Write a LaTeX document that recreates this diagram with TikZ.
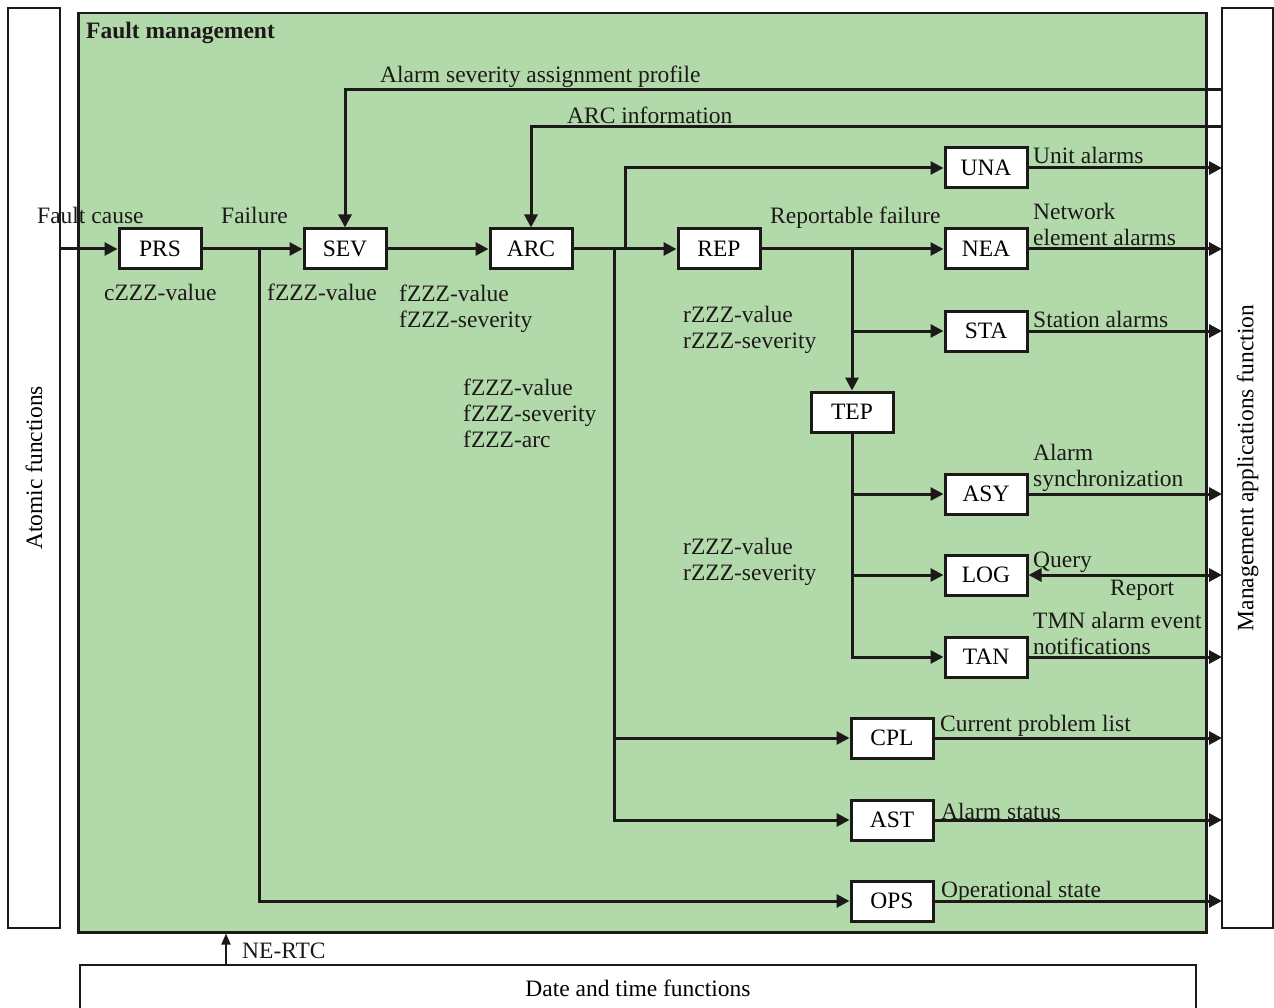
\documentclass[tikz,border=0pt]{standalone}
\usepackage{fontspec}
\setmainfont{Liberation Serif}
\usetikzlibrary{arrows.meta}
\definecolor{fmgreen}{RGB}{178,217,170}
\definecolor{ink}{RGB}{30,25,25}
\begin{document}
\begin{tikzpicture}[x=1pt,y=-1pt,
  fnt/.style={font=\fontsize{23.5}{26}\selectfont},
  blk/.style={draw=ink,line width=3pt,fill=white,minimum width=82pt,minimum height=40pt,inner sep=0pt,fnt},
  lbl/.style={fnt,inner sep=0pt,anchor=base west,align=left,text=ink},
  conn/.style={draw=ink,line width=3pt},
  arr/.style={conn,-{Triangle[length=13pt,width=13pt]}},
  darr/.style={conn,{Triangle[length=13pt,width=13pt]}-{Triangle[length=13pt,width=13pt]}},
  thinarr/.style={draw=ink,line width=1.8pt,-{Triangle[length=11pt,width=9pt]}},
  panel/.style={draw=ink,line width=2.2pt,fill=white,inner sep=0pt,fnt}]
\useasboundingbox (0,0) rectangle (1274,1008);

% panels
\node[panel,rotate=90,minimum width=920pt,minimum height=52pt] (atomic) at (34,468) {Atomic functions};
\node[panel,rotate=90,minimum width=920pt,minimum height=51pt] (mgmt) at (1247.5,468) {Management applications function};
\node[draw=ink,line width=2.5pt,fill=fmgreen,minimum width=1128pt,minimum height=919pt,anchor=north west,inner sep=0pt] (fm) at (77,12) {};
\node[panel,minimum width=1116pt,minimum height=46pt] (dt) at (638,988) {Date and time functions};
\node[lbl,font=\fontsize{23.5}{26}\selectfont\bfseries] (fmt) at (86,39) {Fault management};

% blocks
\node[blk] (prs) at (160,249) {PRS};
\node[blk] (sev) at (345,249) {SEV};
\node[blk] (arc) at (531,249) {ARC};
\node[blk] (rep) at (719,249) {REP};
\node[blk] (una) at (986,168) {UNA};
\node[blk] (nea) at (986,249) {NEA};
\node[blk] (sta) at (986,331) {STA};
\node[blk] (tep) at (852,412) {TEP};
\node[blk] (asy) at (986,494) {ASY};
\node[blk] (log) at (986,575) {LOG};
\node[blk] (tan) at (986,657) {TAN};
\node[blk] (cpl) at (892,738) {CPL};
\node[blk] (ast) at (892,820) {AST};
\node[blk] (ops) at (892,901) {OPS};

% coordinates
\coordinate (fc) at (60,249);
\coordinate (rx) at (1222,0);
\coordinate (j1) at (259,249);
\coordinate (j2) at (614,249);
\coordinate (j3) at (625,249);
\coordinate (j4) at (852,249);
\coordinate (asp) at (1222,90);
\coordinate (arci) at (1222,127);
\coordinate (rtcx) at (226,0);

% connectors
\draw[arr] (fc) -- (prs);
\draw[arr] (prs) -- (sev);
\draw[arr] (j1) |- (ops);
\draw[arr] (sev) -- (arc);
\draw[arr] (arc) -- (rep);
\draw[arr] (j2) |- (ast);
\draw[arr] (j2 |- cpl) -- (cpl);
\draw[arr] (j3) |- (una);
\draw[arr] (rep) -- (nea);
\draw[arr] (j4) -- (tep);
\draw[arr] (j4 |- sta) -- (sta);
\draw[arr] (tep) |- (tan);
\draw[arr] (tep.south |- asy) -- (asy);
\draw[arr] (tep.south |- log) -- (log);
\draw[arr] (asp) -| (sev);
\draw[arr] (arci) -| (arc);
\draw[arr] (una) -- (una -| rx);
\draw[arr] (nea) -- (nea -| rx);
\draw[arr] (sta) -- (sta -| rx);
\draw[arr] (asy) -- (asy -| rx);
\draw[darr] (log) -- (log -| rx);
\draw[arr] (tan) -- (tan -| rx);
\draw[arr] (cpl) -- (cpl -| rx);
\draw[arr] (ast) -- (ast -| rx);
\draw[arr] (ops) -- (ops -| rx);
\draw[thinarr] (dt.north -| rtcx) -- (fm.south -| rtcx);

% labels
\node[lbl] (l1) at (37,224) {Fault cause};
\node[lbl] (l2) at (221,224) {Failure};
\node[lbl] (l3) at (380,83) {Alarm severity assignment profile};
\node[lbl] (l4) at (567,124) {ARC information};
\node[lbl] (l5) at (104,301) {cZZZ-value};
\node[lbl] (l6) at (267,301) {fZZZ-value};
\node[lbl] (l7) at (399,327) {fZZZ-value\\fZZZ-severity};
\node[lbl] (l8) at (463,447) {fZZZ-value\\fZZZ-severity\\fZZZ-arc};
\node[lbl] (l9) at (770,224) {Reportable failure};
\node[lbl] (l10) at (683,348) {rZZZ-value\\rZZZ-severity};
\node[lbl] (l11) at (683,580) {rZZZ-value\\rZZZ-severity};
\node[lbl] (l12) at (1033,164) {Unit alarms};
\node[lbl] (l13) at (1033,246) {Network\\element alarms};
\node[lbl] (l14) at (1033,327) {Station alarms};
\node[lbl] (l15) at (1033,486) {Alarm\\synchronization};
\node[lbl] (l16) at (1033,567) {Query};
\node[lbl] (l17) at (1110,595) {Report};
\node[lbl] (l18) at (1033,654) {TMN alarm event\\notifications};
\node[lbl] (l19) at (940,731) {Current problem list};
\node[lbl] (l20) at (941,819) {Alarm status};
\node[lbl] (l21) at (941,897) {Operational state};
\node[lbl] (l22) at (242,958) {NE-RTC};
\end{tikzpicture}
\end{document}
